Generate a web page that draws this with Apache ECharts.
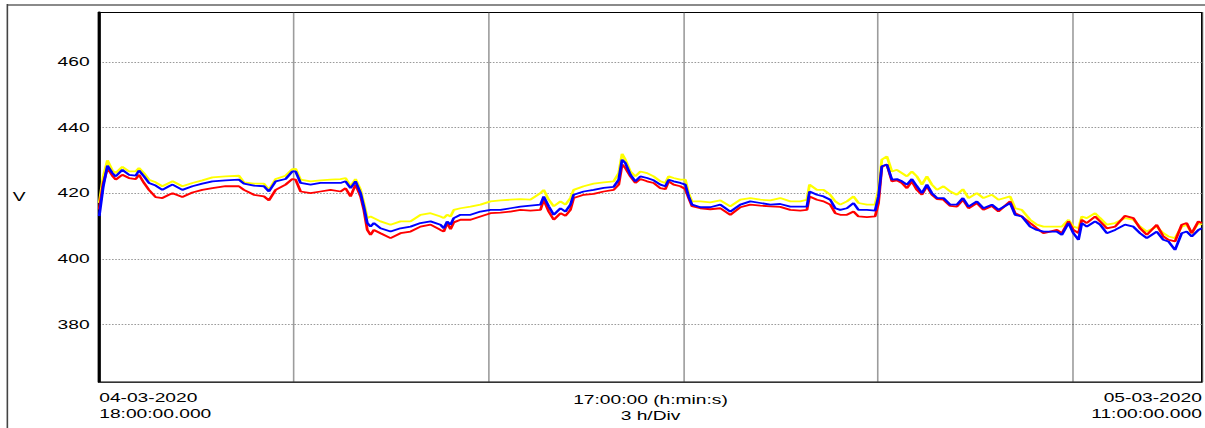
<!DOCTYPE html>
<html>
<head>
<meta charset="utf-8">
<script src="https://cdn.jsdelivr.net/npm/echarts@6/dist/echarts.min.js"></script>
<style>
html, body { margin: 0; padding: 0; background: #fff; overflow: hidden; width: 1205px; height: 428px; }
/* the reference is a horizontally stretched recorder plot: draw at 753px and stretch */
#chart { position: absolute; left: 0; top: 0; width: 753px; height: 428px; transform: scaleX(1.60027); transform-origin: 0 0; }
</style>
</head>
<body>
<div id="chart"></div>
<script>
// ---- data (minutes after 04-03-2020 18:00:00) ----
const START_UTC = Date.UTC(2020, 2, 4, 18, 0, 0);
const SPAN_MIN = 1020;            // 17:00:00
const DIV_MIN = 180;              // 3 h/Div
const yTicks = [380, 400, 420, 440, 460];

const minutes = [
  0, 3.7, 7.6, 12.2, 15.3, 21.4, 27.5, 33.7, 36.8, 41.4,
  46.0, 52.2, 58.4, 64.5, 67.9, 76.9, 86.2, 95.4, 104.7, 116.9,
  129.2, 133.9, 143.1, 152.4, 157.0, 163.2, 172.4, 178.6, 181.7, 186.3,
  195.5, 204.7, 214.0, 223.2, 227.9, 232.5, 237.1, 241.8, 244.8, 248.0,
  251.0, 254.1, 260.2, 269.5, 278.7, 288.0, 297.2, 306.5, 315.7, 318.8,
  321.9, 325.0, 328.0, 334.2, 343.5, 352.7, 362.0, 371.2, 380.4, 389.7,
  398.9, 408.2, 411.2, 415.8, 420.5, 426.7, 431.3, 435.9, 438.9, 448.2,
  457.4, 466.7, 475.9, 480.6, 483.7, 486.7, 491.4, 496.0, 500.6, 506.8,
  512.9, 519.1, 523.7, 526.8, 531.4, 537.6, 542.2, 545.3, 548.4, 556.1,
  565.3, 574.6, 583.8, 593.1, 602.3, 611.6, 620.8, 630.0, 639.3, 648.5,
  654.7, 657.1, 664.0, 670.1, 676.3, 680.9, 685.5, 691.7, 697.8, 702.4,
  710.2, 717.8, 720.9, 724.0, 728.7, 733.3, 737.9, 742.6, 747.2, 751.8,
  756.4, 761.1, 765.7, 770.3, 775.0, 781.0, 787.3, 793.4, 799.0, 804.2,
  811.9, 818.0, 825.8, 831.9, 842.7, 847.3, 853.5, 861.2, 867.4, 873.5,
  879.7, 885.9, 890.5, 896.7, 901.2, 905.9, 909.0, 913.6, 921.3, 925.9,
  932.1, 939.8, 949.0, 956.7, 962.9, 969.1, 978.3, 984.4, 989.1, 995.2,
  1001.4, 1006.0, 1010.7, 1016.8, 1020
];

const voltsYellow = [
  417, 425, 430.0, 426.9, 426.1, 428.0, 426.6, 426.6, 427.7, 426.1,
  424.1, 423.3, 422.1, 423.1, 423.6, 422.1, 423.1, 423.9, 424.8, 425.1,
  425.3, 423.3, 422.9, 422.9, 421.0, 424.3, 425.3, 427.3, 427.4, 424.1,
  423.6, 423.9, 424.1, 424.3, 424.6, 422.1, 424.3, 421.0, 417.0, 412.4,
  412.9, 412.4, 411.4, 410.4, 411.4, 411.4, 413.4, 413.9, 412.9, 412.4,
  413.4, 412.9, 414.9, 415.4, 415.9, 416.5, 417.5, 417.8, 418.0, 418.2,
  418.0, 420.0, 421.0, 418.0, 416.0, 417.5, 416.5, 418.5, 421.0, 422.1,
  422.9, 423.3, 423.6, 426.1, 432.0, 430.2, 426.6, 425.1, 426.6, 426.1,
  425.1, 423.6, 423.1, 425.1, 424.6, 424.1, 424.1, 420.0, 417.5, 417.5,
  417.2, 417.8, 416.0, 418.0, 418.5, 418.0, 417.8, 418.5, 417.5, 417.5,
  418.0, 422.6, 421.0, 421.0, 419.5, 417.5, 416.5, 417.5, 419.0, 417.0,
  416.5, 416.5, 421.0, 430.2, 431.2, 426.6, 427.1, 426.1, 425.1, 426.6,
  425.1, 422.6, 425.1, 422.6, 421.0, 422.1, 420.5, 419.5, 421.2, 418.5,
  420.0, 418.5, 419.5, 418.0, 419.0, 415.4, 414.9, 411.9, 410.4, 409.8,
  409.8, 409.8, 409.8, 411.9, 409.8, 409.3, 412.9, 412.4, 413.9, 412.4,
  410.4, 410.9, 412.4, 411.9, 409.8, 408.3, 409.8, 407.8, 406.8, 406.3,
  409.8, 410.4, 407.8, 410.9, 410.4
];

const voltsRed = [
  415, 423, 427.6, 425.3, 424.1, 425.6, 424.6, 424.3, 425.6, 423.1,
  421.0, 418.8, 418.5, 419.5, 420.0, 418.8, 420.2, 421.0, 421.5, 422.1,
  422.1, 421.0, 419.5, 419.0, 417.8, 421.0, 422.6, 424.3, 424.1, 420.5,
  420.0, 420.5, 421.0, 420.5, 421.5, 419.0, 422.6, 419.0, 414.9, 408.8,
  407.3, 408.8, 407.8, 406.3, 407.8, 408.3, 409.8, 410.4, 408.8, 408.3,
  410.9, 409.0, 411.1, 411.9, 411.9, 412.9, 413.9, 414.1, 414.4, 414.9,
  414.7, 414.9, 418.0, 414.4, 411.9, 413.9, 413.1, 414.9, 418.5, 419.5,
  419.8, 420.5, 421.0, 422.6, 428.7, 427.7, 425.1, 423.1, 424.3, 423.6,
  423.1, 421.5, 421.2, 423.6, 422.6, 422.1, 421.2, 418.5, 416.0, 415.4,
  415.1, 415.4, 413.4, 415.7, 416.5, 416.2, 416.0, 415.8, 414.9, 414.7,
  414.9, 419.0, 418.0, 417.5, 416.5, 413.9, 413.4, 413.4, 414.4, 412.9,
  412.7, 412.9, 417.0, 428.0, 428.7, 423.6, 423.9, 423.1, 421.5, 423.6,
  421.0, 419.5, 422.1, 419.5, 418.2, 418.0, 416.1, 415.9, 418.0, 415.4,
  417.0, 414.9, 416.1, 414.4, 417.5, 413.9, 412.9, 410.9, 409.3, 407.8,
  408.3, 408.8, 407.8, 411.4, 408.8, 407.8, 411.9, 410.9, 412.9, 411.4,
  409.3, 409.8, 413.1, 412.4, 409.3, 407.3, 410.4, 406.8, 405.8, 405.3,
  410.4, 410.9, 407.8, 411.4, 410.9
];

const voltsBlue = [
  413, 422, 428.4, 426.1, 425.1, 427.1, 425.6, 425.3, 426.9, 425.1,
  423.1, 422.3, 421.0, 422.1, 422.6, 421.0, 422.1, 422.9, 423.6, 423.9,
  424.1, 422.9, 422.3, 422.1, 420.5, 423.6, 424.3, 426.6, 426.6, 423.1,
  422.6, 423.1, 423.1, 423.1, 423.6, 421.5, 423.6, 420.0, 415.9, 410.9,
  409.8, 410.9, 409.3, 408.3, 409.3, 409.8, 410.9, 411.4, 410.4, 409.3,
  411.4, 410.4, 412.4, 413.4, 413.4, 414.4, 414.9, 414.9, 415.4, 415.9,
  416.2, 416.5, 419.0, 416.0, 413.4, 415.4, 414.4, 416.5, 419.5, 420.5,
  421.0, 421.6, 421.9, 424.1, 430.2, 429.2, 425.6, 423.6, 425.1, 424.6,
  423.9, 422.6, 422.1, 424.1, 423.6, 423.1, 422.6, 419.0, 416.5, 415.7,
  415.7, 416.5, 414.4, 416.5, 417.5, 417.0, 416.5, 416.7, 415.9, 415.9,
  415.9, 420.5, 419.5, 419.0, 418.0, 415.4, 414.9, 415.4, 417.0, 414.9,
  414.9, 414.7, 419.0, 428.2, 428.7, 424.1, 424.3, 423.6, 422.6, 424.3,
  422.1, 420.0, 422.6, 420.0, 418.5, 418.5, 416.5, 416.5, 418.5, 415.9,
  417.5, 415.4, 416.5, 414.9, 417.0, 413.4, 412.9, 409.8, 408.8, 408.3,
  408.3, 408.3, 407.3, 410.9, 407.8, 405.8, 410.9, 409.8, 411.4, 410.4,
  407.8, 408.8, 410.4, 409.8, 407.8, 406.3, 408.3, 405.8, 405.3, 402.7,
  407.8, 408.3, 406.8, 408.8, 409.3
];

// ---- helpers ----
function pad(n) { return String(n).padStart(2, '0'); }
function stamp(min) {
  const d = new Date(START_UTC + min * 60000);
  return pad(d.getUTCDate()) + '-' + pad(d.getUTCMonth() + 1) + '-' + d.getUTCFullYear() + '\n' +
         pad(d.getUTCHours()) + ':' + pad(d.getUTCMinutes()) + ':' + pad(d.getUTCSeconds()) + '.000';
}
function spanLabel(min) {
  const h = Math.floor(min / 60), m = Math.round(min % 60);
  return pad(h) + ':' + pad(m) + ':00 (h:min:s)\n' + (DIV_MIN / 60) + ' h/Div';
}
const pairs = arr => minutes.map((m, i) => [m, arr[i]]);

const FONT = 'Liberation Sans, Arial, sans-serif';
const chart = echarts.init(document.getElementById('chart'), null, { renderer: 'svg' });

chart.setOption({
  animation: false,
  backgroundColor: '#ffffff',
  grid: {
    left: 62, right: 2, top: 12.5, bottom: 46,
    outerBoundsMode: 'none', containLabel: false,
    show: true, borderColor: '#000', borderWidth: 1, backgroundColor: 'transparent'
  },
  xAxis: {
    type: 'value', min: 0, max: SPAN_MIN, interval: DIV_MIN,
    name: spanLabel(SPAN_MIN), nameLocation: 'middle', nameGap: 10, nameMoveOverlap: false,
    nameTextStyle: { fontFamily: FONT, fontSize: 12, color: '#000', lineHeight: 16, verticalAlign: 'top' },
    axisLine: { show: true, onZero: false, lineStyle: { color: '#333', width: 1 } },
    axisTick: { show: false },
    axisLabel: {
      customValues: [0, SPAN_MIN],
      formatter: v => (v === 0 || v === SPAN_MIN) ? stamp(v) : '',
      alignMinLabel: 'left', alignMaxLabel: 'right',
      margin: 8, lineHeight: 16, fontFamily: FONT, fontSize: 12, color: '#000'
    },
    splitLine: { show: true, lineStyle: { color: '#3a3a3a', type: [1, 1], width: 1 } }
  },
  yAxis: {
    type: 'value', min: 362.5, max: 475,
    name: 'V', nameLocation: 'middle', nameRotate: 0, nameGap: 46, nameMoveOverlap: false,
    nameTextStyle: { fontFamily: FONT, fontSize: 12, color: '#000' },
    axisLine: { show: true, lineStyle: { color: '#000', width: 2 } },
    axisTick: { show: false, customValues: yTicks },
    axisLabel: { customValues: yTicks, margin: 6, fontFamily: FONT, fontSize: 12, color: '#000' },
    splitLine: { show: true, lineStyle: { color: '#9a9a9a', type: [1, 1], width: 1 } }
  },
  graphic: [
    { type: 'line', silent: true, shape: { x1: 4.4, y1: 5, x2: 753, y2: 5 }, style: { stroke: '#8a8a8a', lineWidth: 2 } },
    { type: 'line', silent: true, shape: { x1: 4.6, y1: 4, x2: 4.6, y2: 428 }, style: { stroke: '#444', lineWidth: 1 } }
  ],
  series: [
    { name: 'L2', type: 'line', data: pairs(voltsYellow), showSymbol: false, symbol: 'none',
      lineStyle: { color: '#ffff00', width: 1.8 }, itemStyle: { color: '#ffff00' }, z: 2 },
    { name: 'L1', type: 'line', data: pairs(voltsRed), showSymbol: false, symbol: 'none',
      lineStyle: { color: '#ff0000', width: 1.8 }, itemStyle: { color: '#ff0000' }, z: 3 },
    { name: 'L3', type: 'line', data: pairs(voltsBlue), showSymbol: false, symbol: 'none',
      lineStyle: { color: '#0000ff', width: 1.8 }, itemStyle: { color: '#0000ff' }, z: 4 }
  ]
});
</script>
</body>
</html>
